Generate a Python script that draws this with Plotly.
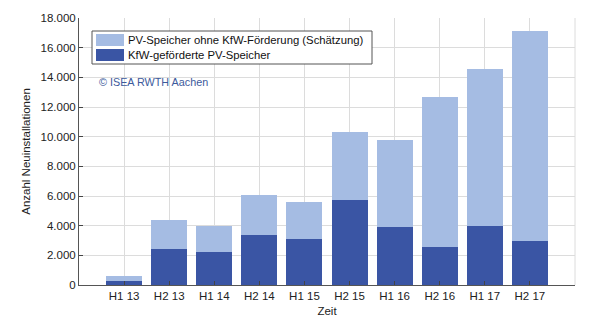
import plotly.graph_objects as go

categories = ["H1 13", "H2 13", "H1 14", "H2 14", "H1 15", "H2 15", "H1 16", "H2 16", "H1 17", "H2 17"]
kfw = [300, 2400, 2200, 3350, 3100, 5700, 3900, 2550, 3950, 3000]
total = [600, 4350, 4000, 6100, 5600, 10300, 9800, 12650, 14550, 17100]
ohne_kfw = [t - k for t, k in zip(total, kfw)]

name_ohne = "PV-Speicher ohne KfW-Förderung (Schätzung)"
name_kfw = "KfW-geförderte PV-Speicher"
col_ohne = "#a5bce3"
col_kfw = "#3a55a4"

font = "Liberation Sans, Arial, sans-serif"

W, H = 600, 327
L, R, T, B = 79, 25, 18, 42
pw, ph = W - L - R, H - T - B


def px(x):
    return (x - L) / pw


def py(y):
    return (H - B - y) / ph


fig = go.Figure()
fig.add_trace(go.Bar(x=categories, y=kfw, name=name_kfw, marker=dict(color=col_kfw, line=dict(width=0)), width=0.8))
fig.add_trace(go.Bar(x=categories, y=ohne_kfw, name=name_ohne, marker=dict(color=col_ohne, line=dict(width=0)), width=0.8))

shapes = [
    dict(type="line", xref="paper", yref="paper", x0=1, x1=1, y0=0, y1=1,
         line=dict(color="#dcdcdc", width=1), layer="below"),
    # legend box
    dict(type="rect", xref="paper", yref="paper", x0=px(92), x1=px(372), y0=py(64), y1=py(31),
         line=dict(color="#555", width=1), fillcolor="white", layer="above"),
]
annotations = []
legend_items = [(name_ohne, col_ohne, 40), (name_kfw, col_kfw, 55)]
for name, col, yc in legend_items:
    shapes.append(dict(type="rect", xref="paper", yref="paper", x0=px(96), x1=px(124),
                       y0=py(yc + 6), y1=py(yc - 6), line=dict(width=0), fillcolor=col, layer="above"))
    annotations.append(dict(text=name, xref="paper", yref="paper", x=px(126), y=py(yc),
                            xanchor="left", yanchor="middle", showarrow=False,
                            font=dict(size=11.3, color="#111", family=font)))
annotations.append(dict(text="© ISEA RWTH Aachen", xref="paper", yref="paper",
                        x=px(97), y=py(82), xanchor="left", yanchor="middle", showarrow=False,
                        font=dict(size=10.8, color="#3d5a9c", family=font)))

fig.update_layout(
    barmode="stack",
    width=W, height=H,
    margin=dict(l=L, r=R, t=T, b=B),
    paper_bgcolor="white", plot_bgcolor="white",
    separators=",.",
    showlegend=False,
    font=dict(family=font, size=11.5, color="#222"),
    xaxis=dict(
        range=[-1, 10], showgrid=True, gridcolor="#dcdcdc", gridwidth=1,
        ticks="inside", ticklen=4, tickcolor="#444",
        showline=True, linecolor="#555", linewidth=1,
        title=dict(text="Zeit", font=dict(size=11.5), standoff=6),
        tickfont=dict(size=11.5),
    ),
    yaxis=dict(
        range=[0, 18000], dtick=2000, tickformat=",d",
        showgrid=True, gridcolor="#dcdcdc", gridwidth=1,
        ticks="inside", ticklen=4, tickcolor="#444",
        showline=True, linecolor="#555", linewidth=1,
        title=dict(text="Anzahl Neuinstallationen", font=dict(size=11.5), standoff=7),
        tickfont=dict(size=11.5), zeroline=False,
    ),
    shapes=shapes,
    annotations=annotations,
)

fig.write_html("out.html")
